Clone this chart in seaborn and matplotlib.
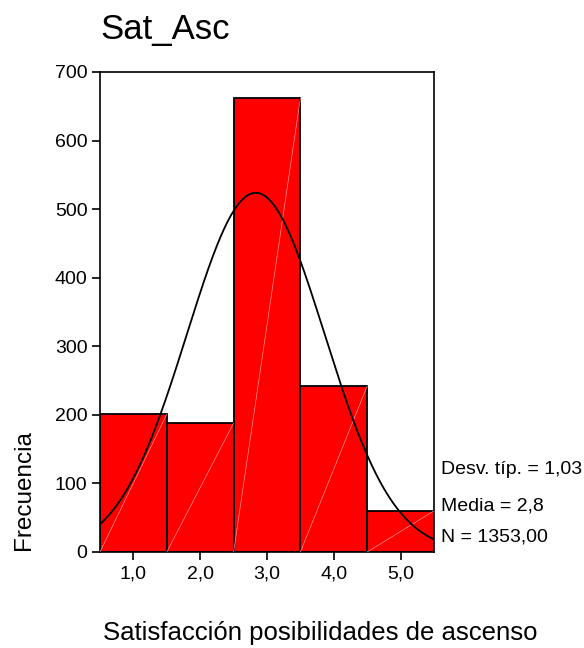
import numpy as np
import pandas as pd
import matplotlib
matplotlib.use("Agg")
import matplotlib.pyplot as plt
import seaborn as sns

# Frequencies per response category
categories = [1, 2, 3, 4, 5]
counts = [201, 188, 662, 242, 60]
xtick_labels = ["1,0", "2,0", "3,0", "4,0", "5,0"]
yticks = [0, 100, 200, 300, 400, 500, 600, 700]
title = "Sat_Asc"
xlabel = "Satisfacción posibilidades de ascenso"
ylabel = "Frecuencia"

sns.set_theme(style="white")
plt.rcParams["font.family"] = ["Liberation Sans", "DejaVu Sans"]
plt.rcParams["text.color"] = "black"

df = pd.DataFrame({"valor": categories, "n": counts})

fig = plt.figure(figsize=(5.84, 6.48), dpi=100)
ax = fig.add_axes([100 / 584, 96 / 648, 334 / 584, 480 / 648])

sns.histplot(data=df, x="valor", weights="n", binwidth=1, binrange=(0.5, 5.5),
             color="#ff0000", edgecolor="black", linewidth=1.3, alpha=1,
             ax=ax)

# faint diagonal inside each bar
for c, h in zip(categories, counts):
    ax.plot([c - 0.5, c + 0.5], [0, h], color="#ffa0a0", lw=0.45, zorder=3)

# fitted normal curve
N = sum(counts)
vals = np.repeat(categories, counts)
mu = vals.mean()
sd = vals.std(ddof=1)
xs = np.linspace(0.5, 5.5, 300)
ys = N * 1.0 * np.exp(-0.5 * ((xs - mu) / sd) ** 2) / (sd * np.sqrt(2 * np.pi))
sns.lineplot(x=xs, y=ys, color="black", lw=1.3, ax=ax, zorder=4)

ax.set_xlim(0.5, 5.5)
ax.set_ylim(0, 700)
ax.set_xticks(categories)
ax.set_xticklabels(xtick_labels)
ax.set_yticks(yticks)
ax.tick_params(axis="both", direction="out", length=6, width=1.2,
               labelsize=14, colors="black", bottom=True, left=True)
ax.tick_params(axis="x", pad=4)
ax.tick_params(axis="y", pad=3)
for s in ax.spines.values():
    s.set_color("black")
    s.set_linewidth(1.2)
ax.set_xlabel("")
ax.set_ylabel("")

fig.text(100 / 584, 1 - 30 / 648, title, fontsize=25, ha="left", va="center")
fig.text(320 / 584, 1 - 633 / 648, xlabel, fontsize=18.5, ha="center", va="center")
fig.text(24 / 584, 1 - 490 / 648, ylabel, fontsize=17.5, rotation=90,
         ha="center", va="center")

sd_txt = f"{sd:.2f}".replace(".", ",")
mu_txt = f"{mu:.1f}".replace(".", ",")
n_txt = f"{N:.2f}".replace(".", ",")
stats = [f"Desv. típ. = {sd_txt}", f"Media = {mu_txt}", f"N = {n_txt}"]
for yy, t in zip([470, 506, 537], stats):
    fig.text(441 / 584, 1 - yy / 648, t, fontsize=14, ha="left", va="center")

fig.savefig("out.png", dpi=100)
